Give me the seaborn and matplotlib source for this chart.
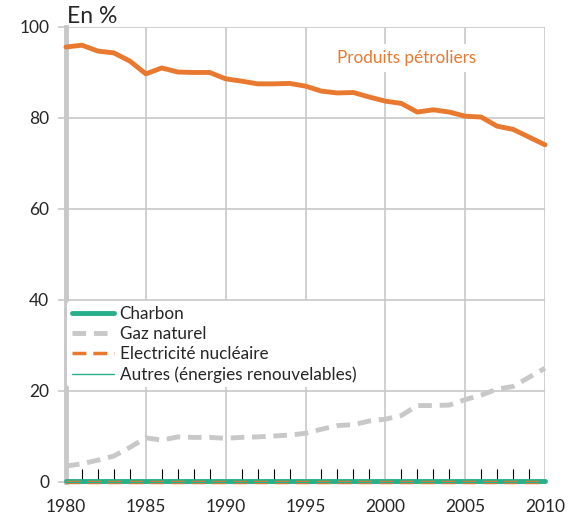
import numpy as np
import pandas as pd
import matplotlib
matplotlib.use("Agg")
import matplotlib.pyplot as plt
from matplotlib.ticker import MultipleLocator
import seaborn as sns

years = list(range(1980, 2011))
petrole = [95.6, 96.0, 94.7, 94.3, 92.5, 89.7, 91.0, 90.1, 90.0, 90.0,
           88.6, 88.1, 87.5, 87.5, 87.6, 87.0, 85.9, 85.5, 85.6, 84.6,
           83.7, 83.2, 81.3, 81.8, 81.3, 80.4, 80.2, 78.2, 77.5, 75.8, 74.1]
gaz = [3.5, 4.0, 4.8, 5.7, 7.6, 9.7, 9.2, 9.9, 9.8, 9.8,
       9.6, 9.8, 9.9, 10.1, 10.3, 10.7, 11.6, 12.4, 12.6, 13.4,
       13.8, 14.6, 16.8, 16.8, 16.9, 18.1, 19.1, 20.4, 21.0, 23.0, 25.0]
charbon = [0.2] * len(years)
nucleaire = [0.0] * len(years)
autres = [0.0] * len(years)

orange = "#E8792F"
teal = "#27AE8A"
grey = "#C8C8C8"

sns.set_style("white")
plt.rcParams['font.family'] = ['Lato', 'DejaVu Sans']

df = pd.DataFrame({"annee": years, "petrole": petrole, "gaz": gaz,
                   "charbon": charbon, "nucleaire": nucleaire, "autres": autres})

fig = plt.figure(figsize=(5.76, 5.21), dpi=100)
ax = fig.add_axes([0.1146, 0.0749, 0.8316, 0.8733])

sns.lineplot(data=df, x="annee", y="gaz", ax=ax, color=grey, lw=3.5,
             linestyle=(0, (2.8, 1.6)), label="Gaz naturel", zorder=3)
sns.lineplot(data=df, x="annee", y="petrole", ax=ax, color=orange, lw=3.5,
             label="_nolegend_", zorder=3)
sns.lineplot(data=df, x="annee", y="charbon", ax=ax, color=teal, lw=3.5,
             label="Charbon", zorder=4)
sns.lineplot(data=df, x="annee", y="nucleaire", ax=ax, color=orange, lw=2.5,
             linestyle=(0, (4, 2)), label="Electricité nucléaire", zorder=5)
sns.lineplot(data=df, x="annee", y="autres", ax=ax, color=teal, lw=1,
             label="Autres (énergies renouvelables)", zorder=5)
for ln in ax.lines:
    ln.set_clip_on(False)

ax.set_xlim(1980, 2010)
ax.set_ylim(0, 100)
ax.xaxis.set_major_locator(MultipleLocator(5))
ax.xaxis.set_minor_locator(MultipleLocator(1))
ax.yaxis.set_major_locator(MultipleLocator(20))
ax.grid(True, which="major", color=grey, lw=1.2, zorder=0)
ax.tick_params(axis="x", which="both", bottom=True)
ax.tick_params(axis="x", which="major", length=0, pad=12, labelsize=12.5)
ax.tick_params(axis="x", which="minor", direction="in", length=9.5,
               width=0.8, color="black")
ax.tick_params(axis="y", which="major", left=True, length=6, color=grey,
               width=1.2, labelsize=12.5, pad=6)
ax.set_xlabel("")
ax.set_ylabel("")
for s in ["top", "right", "bottom"]:
    ax.spines[s].set_visible(False)
ax.spines["left"].set_color(grey)
ax.spines["left"].set_linewidth(3.5)

ax.text(2001.3, 93.2, "Produits pétroliers", color=orange, fontsize=12.3,
        ha="center", va="center",
        bbox=dict(facecolor="white", edgecolor="none", pad=4))
fig.text(0.117, 0.968, "En %", fontsize=16.5, ha="left", va="center")

handles, labels = ax.get_legend_handles_labels()
order = ["Charbon", "Gaz naturel", "Electricité nucléaire",
         "Autres (énergies renouvelables)"]
hmap = dict(zip(labels, handles))
leg = ax.legend([hmap[k] for k in order], order, loc="upper left",
                bbox_to_anchor=(0.003, 0.397), frameon=True, fontsize=12.3,
                handlelength=2.5, handletextpad=0.3, labelspacing=0.25,
                borderpad=0.25, borderaxespad=0.0)
leg.get_frame().set_edgecolor("none")
leg.get_frame().set_facecolor("white")
leg.get_frame().set_alpha(1)

fig.savefig("out.png", dpi=100)
